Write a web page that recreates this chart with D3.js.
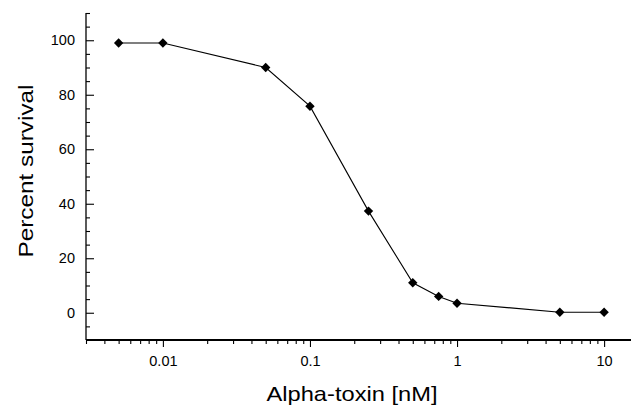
<!DOCTYPE html>
<html>
<head>
<meta charset="utf-8">
<script src="https://cdn.jsdelivr.net/npm/d3@7"></script>
<style>
  html, body { margin: 0; padding: 0; background: #fff; }
  svg { display: block; }
  text { font-family: "Liberation Sans", Arial, Helvetica, sans-serif; fill: #000; }
</style>
</head>
<body>
<svg id="chart" width="631" height="406"></svg>
<script>
// ---- data ----
const concentrations = [0.005, 0.01, 0.05, 0.1, 0.25, 0.5, 0.75, 1, 5, 10];
const survival       = [99, 99, 90, 75.8, 37.3, 11, 6, 3.5, 0.2, 0.2];
const xTickValues = [0.01, 0.1, 1, 10];
const xTickLabels = ["0.01", "0.1", "1", "10"];
const yTickValues = [0, 20, 40, 60, 80, 100];
const yTickLabels = ["0", "20", "40", "60", "80", "100"];
const xTitle = "Alpha-toxin [nM]";
const yTitle = "Percent survival";

// ---- layout ----
const W = 631, H = 406;
const mLeft = 86, mRight = 630, mTop = 13, mBottom = 340;

const svg = d3.select("#chart");

const x = d3.scaleLog().domain([0.003, 15]).range([mLeft, mRight]);
const y = d3.scaleLinear().domain([-10, 110]).range([mBottom, mTop]);

// x axis: major ticks (labelled) + minor ticks, downward
const xMinor = x.ticks().filter(v => !xTickValues.some(t => Math.abs(t - v) < 1e-9));
const xAxisMinor = d3.axisBottom(x).tickValues(xMinor).tickSize(4).tickFormat("");
const xAxisMajor = d3.axisBottom(x).tickValues(xTickValues).tickSize(7)
  .tickFormat((d, i) => xTickLabels[i]).tickPadding(9);

const gxMinor = svg.append("g").attr("transform", `translate(0,${mBottom})`).call(xAxisMinor);
gxMinor.select(".domain").remove();
gxMinor.selectAll("line").attr("stroke", "#000").attr("stroke-width", 1.1);

const gx = svg.append("g").attr("transform", `translate(0,${mBottom})`).call(xAxisMajor);
gx.select(".domain").remove();
gx.selectAll("line").attr("stroke", "#000").attr("stroke-width", 1.1);
gx.selectAll("text").attr("font-size", 14.5).attr("dy", "0.71em");

svg.append("line")
  .attr("x1", x.range()[0]).attr("x2", W)
  .attr("y1", mBottom).attr("y2", mBottom)
  .attr("stroke", "#000").attr("stroke-width", 2);

// y axis: ticks pointing inward (right)
const yMinor = d3.range(-5, 111, 5).filter(v => !yTickValues.includes(v));
const yAxisMinor = d3.axisRight(y).tickValues(yMinor).tickSize(4).tickFormat("");
const yAxisMajor = d3.axisRight(y).tickValues(yTickValues).tickSize(8)
  .tickFormat((d, i) => yTickLabels[i]);

const gyMinor = svg.append("g").attr("transform", `translate(${mLeft},0)`).call(yAxisMinor);
gyMinor.select(".domain").remove();
gyMinor.selectAll("line").attr("stroke", "#000").attr("stroke-width", 1.1);

const gy = svg.append("g").attr("transform", `translate(${mLeft},0)`).call(yAxisMajor);
gy.select(".domain").remove();
gy.selectAll("line").attr("stroke", "#000").attr("stroke-width", 1.1);
gy.selectAll("text")
  .attr("x", -11).attr("text-anchor", "end")
  .attr("font-size", 14.5);

svg.append("line")
  .attr("x1", mLeft).attr("x2", mLeft)
  .attr("y1", mTop).attr("y2", mBottom)
  .attr("stroke", "#000").attr("stroke-width", 1.3);

// titles
svg.append("text")
  .attr("x", 352).attr("y", 401)
  .attr("text-anchor", "middle")
  .attr("font-size", 21)
  .attr("textLength", 171).attr("lengthAdjust", "spacingAndGlyphs")
  .text(xTitle);

svg.append("text")
  .attr("transform", `translate(33,171) rotate(-90)`)
  .attr("text-anchor", "middle")
  .attr("font-size", 21)
  .attr("textLength", 173).attr("lengthAdjust", "spacingAndGlyphs")
  .text(yTitle);

// data line
const pts = concentrations.map((c, i) => [c, survival[i]]);
svg.append("path")
  .datum(pts)
  .attr("fill", "none")
  .attr("stroke", "#000")
  .attr("stroke-width", 1.1)
  .attr("d", d3.line().x(d => x(d[0])).y(d => y(d[1])));

// diamond markers
const sym = d3.symbol().type(d3.symbolSquare).size(44);
svg.append("g").selectAll("path")
  .data(pts)
  .join("path")
  .attr("d", sym)
  .attr("transform", d => `translate(${x(d[0])},${y(d[1])}) rotate(45)`)
  .attr("fill", "#000");
</script>
</body>
</html>
